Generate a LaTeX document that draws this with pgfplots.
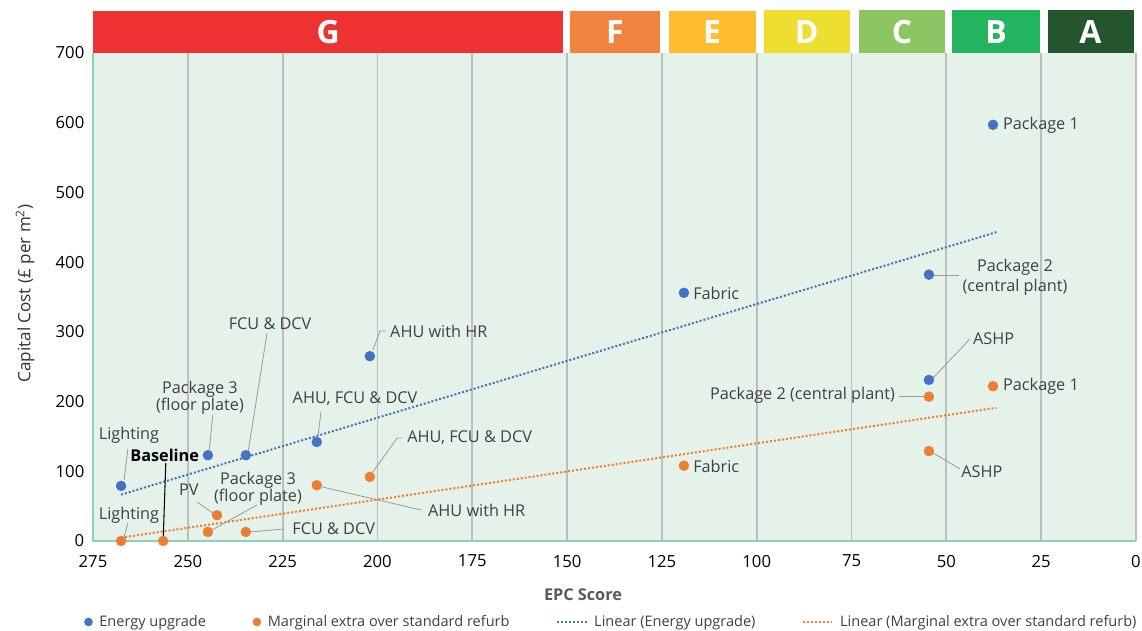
\documentclass[border=0pt]{standalone}
\usepackage{pgfplots}
\pgfplotsset{compat=1.18}
\usepackage{fontspec}
\setmainfont{Open Sans}
\definecolor{blueM}{HTML}{4472C4}
\definecolor{orangeM}{HTML}{ED7D31}
\definecolor{bgc}{HTML}{E5F2E9}
\definecolor{axgreen}{HTML}{8FD1B3}
\definecolor{gridgrey}{HTML}{BDBDBD}
\definecolor{tgrey}{HTML}{404040}
\definecolor{lgrey}{HTML}{9A9A9A}
\definecolor{bandG}{HTML}{EE3131}
\definecolor{bandF}{HTML}{F0833D}
\definecolor{bandE}{HTML}{FDBD2C}
\definecolor{bandD}{HTML}{EEDE31}
\definecolor{bandC}{HTML}{8CC663}
\definecolor{bandB}{HTML}{23B45F}
\definecolor{bandA}{HTML}{24552D}
\newcommand{\annot}{\fontsize{12.2}{13}\selectfont}
\pgfplotsset{trendleg/.style={legend image code/.code={\draw[##1] (0pt,0pt) -- (22pt,0pt);}}}
\begin{document}
\begin{tikzpicture}
\begin{axis}[
  scale only axis, width=782.25pt, height=366pt,
  x dir=reverse,
  xmin=0, xmax=275, ymin=0, ymax=700,
  xtick={0,25,...,275}, ytick={0,100,...,700},
  xmajorgrids, grid style={draw=gridgrey, line width=1.4pt},
  major tick length=0pt,
  axis line style={draw=none},
  axis background/.style={fill=bgc},
  tick label style={font=\fontsize{12.5}{14}\selectfont, text=black},
  xticklabel style={yshift=-7pt},
  yticklabel style={xshift=-3pt},
  /pgf/number format/assume math mode=true,
  clip=false,
  legend columns=4,
  legend cell align=left,
  legend style={draw=none, fill=none, at={(-0.0125,-0.166)}, anchor=west,
    font=\fontsize{10.9}{12}\selectfont, text=tgrey,
    /tikz/every odd column/.append style={column sep=3pt},
    /tikz/every even column/.append style={column sep=33pt}},
]
% EPC bands
\fill[bandG] (axis cs:275,700) rectangle (axis cs:151,760.3);
\fill[bandF] (axis cs:149.2,700) rectangle (axis cs:125.5,760.3);
\fill[bandE] (axis cs:123.2,700) rectangle (axis cs:100.3,760.3);
\fill[bandD] (axis cs:98.1,700) rectangle (axis cs:75.4,761.5);
\fill[bandC] (axis cs:73.1,700) rectangle (axis cs:50.3,761.5);
\fill[bandB] (axis cs:48.6,700) rectangle (axis cs:25.2,761.5);
\fill[bandA] (axis cs:23.3,700) rectangle (axis cs:0.6,761.5);
\begin{scope}[every node/.style={text=white, font=\fontsize{24}{24}\selectfont\bfseries}]
\node at (axis cs:213,730) {G};
\node at (axis cs:137.4,730) {F};
\node at (axis cs:111.8,730) {E};
\node at (axis cs:86.8,730) {D};
\node at (axis cs:61.7,730) {C};
\node at (axis cs:36.9,730) {B};
\node at (axis cs:12,730) {A};
\end{scope}
% axis lines
\draw[axgreen, line width=1.5pt] (axis cs:275,700) -- (axis cs:275,0) -- (axis cs:0,0);

% trend lines
\addplot[forget plot, blueM, line width=1.5pt, dash pattern=on 1.5pt off 1.5pt] coordinates {(267.6,66.5) (36.8,443)};
\addplot[forget plot, orangeM, line width=1.5pt, dash pattern=on 1.5pt off 1.5pt] coordinates {(267.6,4.7) (36.8,191.1)};

% leader lines
\begin{scope}[lgrey, line width=0.6pt]
\draw (axis cs:265.8,132.0) -- (axis cs:266.8,87.5);
\draw (axis cs:243.4,180.7) -- (axis cs:244.4,127.7);
\draw (axis cs:229.1,298.4) -- (axis cs:234.1,127.7);
\draw (axis cs:214.9,185.0) -- (axis cs:215.7,149.2);
\draw (axis cs:197.7,301.2) -- (axis cs:199.3,301.2) -- (axis cs:201.2,274.0);
\draw (axis cs:53.8,381.6) -- (axis cs:46.7,381.6);
\draw (axis cs:43.8,289.8) -- (axis cs:53.5,233.8);
\draw (axis cs:265.8,25.8) -- (axis cs:266.8,5.7);
\draw (axis cs:247.6,55.9) -- (axis cs:243.4,40.2);
\draw (axis cs:231.8,51.6) -- (axis cs:243.6,15.8);
\draw (axis cs:224.6,17.2) -- (axis cs:233.6,12.9);
\draw (axis cs:188.5,44.5) -- (axis cs:214.6,77.5);
\draw (axis cs:193.5,147.7) -- (axis cs:194.8,147.7) -- (axis cs:201.2,99.0);
\draw (axis cs:62.5,208.0) -- (axis cs:55.1,208.0);
\draw (axis cs:53.5,126.2) -- (axis cs:46.4,103.3);
\end{scope}
\draw[black, line width=0.8pt] (axis cs:255.8,111.9) -- (axis cs:256.5,0);

% data
\addplot[only marks, mark=*, mark size=3.7pt, blueM, mark options={draw=blueM, fill=blueM},
  legend image code/.code={\fill[blueM] (0pt,0pt) circle (3pt);}] coordinates {
  (267.6,79) (244.7,123) (234.7,123) (216,142) (202,265) (119.2,356) (54.6,382) (54.6,231) (37.7,597)};
\addlegendentry{Energy upgrade}
\addplot[only marks, mark=*, mark size=3.7pt, orangeM, mark options={draw=orangeM, fill=orangeM},
  legend image code/.code={\fill[orangeM] (0pt,0pt) circle (3pt);}] coordinates {
  (267.6,0) (256.5,0) (242.3,37) (244.7,13) (234.7,13) (216,80) (202,92) (119.2,108) (54.6,207) (54.6,129) (37.7,222)};
\addlegendentry{Marginal extra over standard refurb}
\addlegendimage{trendleg, blueM, line width=1.5pt, dash pattern=on 1.5pt off 1.5pt}
\addlegendentry{Linear (Energy upgrade)}
\addlegendimage{trendleg, orangeM, line width=1.5pt, dash pattern=on 1.5pt off 1.5pt}
\addlegendentry{Linear (Marginal extra over standard refurb)}

% annotations
\begin{scope}[every node/.style={font=\annot, text=tgrey, inner sep=0pt}]
\node at (axis cs:265.5,152.1) {Lighting};
\node[align=center] at (axis cs:246.8,205.1) {Package 3\\(floor plate)};
\node at (axis cs:228.3,311.3) {FCU \& DCV};
\node at (axis cs:205.9,203.7) {AHU, FCU \& DCV};
\node[anchor=west] at (axis cs:196.7,301.2) {AHU with HR};
\node[anchor=west] at (axis cs:116.8,355.7) {Fabric};
\node[align=center] at (axis cs:31.9,378.0) {Package 2\\[2pt](central plant)};
\node[anchor=west] at (axis cs:43.0,289.8) {ASHP};
\node[anchor=west] at (axis cs:35.1,596.7) {Package 1};
\node at (axis cs:265.5,37.3) {Lighting};
\node[text=black, font=\annot\bfseries] at (axis cs:256.1,123.4) {Baseline};
\node at (axis cs:249.7,73.2) {PV};
\node[align=center] at (axis cs:231.5,74.6) {Package 3\\(floor plate)};
\node[anchor=west] at (axis cs:222.5,17.2) {FCU \& DCV};
\node[anchor=west] at (axis cs:186.7,44.5) {AHU with HR};
\node[anchor=west] at (axis cs:192.2,147.7) {AHU, FCU \& DCV};
\node[anchor=west] at (axis cs:116.8,107.6) {Fabric};
\node[anchor=east] at (axis cs:63.5,209.4) {Package 2 (central plant)};
\node[anchor=west] at (axis cs:46.1,99.0) {ASHP};
\node[anchor=west] at (axis cs:35.1,222.3) {Package 1};
\end{scope}
% axis titles
\node[font=\fontsize{12.2}{13}\selectfont\bfseries, text=black!65] at (axis cs:145.8,-77.5) {EPC Score};
\node[font=\fontsize{12.8}{14}\selectfont, text=black!80, rotate=90] at (axis cs:292.9,355.0) {Capital Cost (£ per m\textsuperscript{2})};
\coordinate (bbSW) at (axis cs:299.52,-129.1);
\coordinate (bbNE) at (axis cs:-1.58,776.0);
\end{axis}
\pgfresetboundingbox
\path (bbSW) rectangle (bbNE);
\end{tikzpicture}
\end{document}
